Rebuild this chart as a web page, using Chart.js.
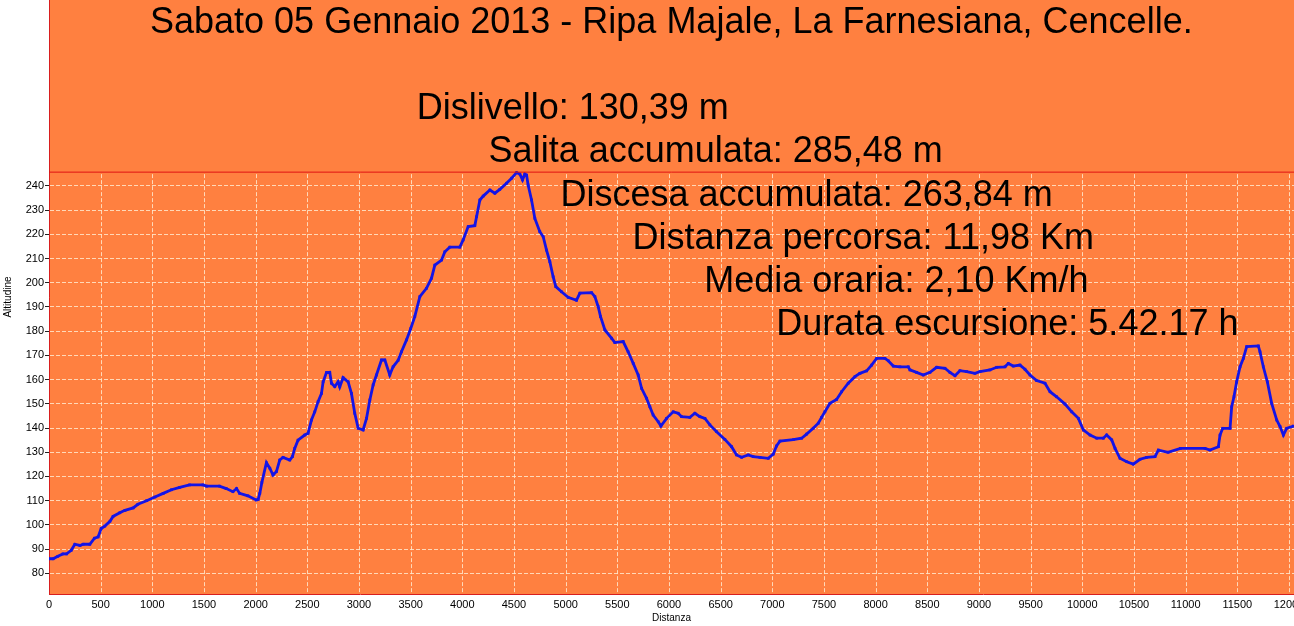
<!DOCTYPE html>
<html>
<head>
<meta charset="utf-8">
<script src="https://cdn.jsdelivr.net/npm/chart.js@4/dist/chart.umd.min.js"></script>
<style>
html,body{margin:0;padding:0;background:#fff;overflow:hidden;}
#wrap{width:1294px;height:626px;position:relative;}
</style>
</head>
<body>
<div id="wrap"><canvas id="c"></canvas></div>
<script>
const titleText = "Sabato 05 Gennaio 2013 - Ripa Majale, La Farnesiana, Cencelle.";
const summaryLines = [
  "Dislivello: 130,39 m",
  "Salita accumulata: 285,48 m",
  "Discesa accumulata: 263,84 m",
  "Distanza percorsa: 11,98 Km",
  "Media oraria: 2,10 Km/h",
  "Durata escursione: 5.42.17 h"
];
const xTicks = [0,500,1000,1500,2000,2500,3000,3500,4000,4500,5000,5500,6000,6500,7000,7500,8000,8500,9000,9500,10000,10500,11000,11500,12000];
const yTicks = [80,90,100,110,120,130,140,150,160,170,180,190,200,210,220,230,240];
const maxAltitude = 245.7;

const distanza = [0,40,85,135,170,215,250,300,330,395,440,475,505,540,590,620,685,735,815,860,945,1025,1105,1185,1265,1360,1490,1525,1650,1715,1780,1815,1845,1925,2005,2024,2040,2060,2104,2137,2168,2201,2233,2265,2330,2356,2378,2410,2475,2507,2540,2572,2604,2637,2653,2685,2717,2734,2766,2798,2814,2846,2895,2927,2959,2992,3040,3073,3105,3137,3169,3218,3250,3298,3330,3379,3411,3460,3500,3540,3589,3653,3702,3734,3799,3831,3879,3976,4008,4057,4121,4138,4170,4202,4267,4315,4363,4428,4477,4525,4557,4583,4605,4622,4637,4670,4702,4750,4783,4815,4847,4879,4905,4960,5024,5105,5138,5251,5283,5315,5338,5380,5444,5476,5557,5605,5654,5702,5735,5783,5815,5847,5896,5922,5977,6041,6089,6122,6202,6251,6299,6348,6396,6461,6541,6606,6654,6703,6767,6815,6880,6961,7009,7041,7074,7203,7284,7332,7396,7445,7477,7509,7558,7622,7671,7735,7800,7848,7913,7961,8010,8090,8122,8171,8235,8316,8332,8396,8461,8526,8590,8671,8719,8768,8816,8881,8961,9010,9106,9171,9252,9284,9332,9397,9445,9494,9558,9639,9688,9752,9833,9898,9962,10010,10075,10140,10204,10236,10285,10317,10365,10430,10494,10559,10623,10704,10736,10830,10950,11188,11236,11317,11333,11359,11430,11446,11468,11494,11527,11559,11591,11704,11720,11752,11791,11833,11882,11914,11946,11978,12043];
const altitudine = [86,86,87,88,88,89.5,92,91.5,92,92,94.5,95,98.5,99.5,101.5,103.5,105,106,107,108.5,110,111.5,113,114.5,115.5,116.5,116.5,116,116,115,113.7,115,113,112,110.3,110.5,113,117.5,125.7,123.4,120.6,122,126.8,127.9,126.8,128.2,131.6,135,137.1,137.8,143.3,146.7,150.9,154.3,159.1,162.9,163,158.5,157.1,159.1,157,160.8,159.1,154.3,146.1,139.9,139.2,144,151.6,157.8,161.9,168.1,168.1,161.9,165.3,168,171.5,176.4,181,186,194.3,197.7,201.9,207.3,209.4,212.8,214.7,214.7,217.7,223.2,223.6,227.3,234.2,235.8,238.3,237,238.6,241.1,243.2,245.5,244.9,242.5,244.9,244.5,240.4,234.2,226.6,221.1,219,213.5,208.7,202.5,198.4,196.3,194,192.8,195.7,195.9,194.3,190.1,186,180.5,177.1,175.3,175.7,171.5,166.7,161.9,156.4,152.3,148.8,145.4,142.6,140.8,144,146.7,146.1,144.7,144.4,146.1,144.7,144,141.3,138.5,135.3,132.3,128.9,127.9,128.9,128.2,127.9,127.5,129.2,132.6,134.6,135.2,135.8,137.5,139.9,142,144.4,146.7,150.2,151.8,155,158.5,161.2,162.6,163.6,166,168.8,168.8,167.8,165.6,165.3,165.3,164,163,161.9,163,165.1,164.7,163,161.6,163.7,163.3,162.6,163.3,164,165.1,165.3,166.7,165.6,166,164.3,161.9,159.6,158.5,155,152.9,149.9,146.7,144,139.2,137.1,135.8,135.8,137.1,135.1,131.6,127.5,126.1,125.1,127.1,127.9,128.2,130.9,130,131.6,131.6,130.9,132.3,137.1,139.9,139.9,148.8,152.9,159.1,165.3,168.8,173.6,173.9,171.5,165.3,159.1,150.2,143.3,140.6,137.1,139.9,140.8];

const X_MIN = 0, X_MAX = 12049, Y_MIN = 71.45, Y_MAX = 316.8;

const profilo = distanza.map((d, i) => ({x: d, y: altitudine[i]}));
const linea_max = [{x: X_MIN, y: maxAltitude}, {x: X_MAX, y: maxAltitude}];

const ORANGE = '#FF8040';
const GRID = 'rgba(255,232,205,0.85)';
const AXIS = '#D81E1E';

const bgPlugin = {
  id: 'bg',
  beforeDraw(chart) {
    const {ctx, chartArea: a, width, height} = chart;
    ctx.save();
    ctx.fillStyle = '#fff';
    ctx.fillRect(0, 0, width, height);
    ctx.fillStyle = ORANGE;
    ctx.fillRect(a.left, a.top, a.right - a.left, a.bottom - a.top);
    ctx.restore();
  },
  beforeDatasetsDraw(chart) {
    const {ctx, chartArea: a, scales} = chart;
    const yTop = scales.y.getPixelForValue(maxAltitude) + 2;
    ctx.save();
    ctx.strokeStyle = GRID;
    ctx.lineWidth = 1;
    ctx.setLineDash([4, 2]);
    xTicks.forEach(v => {
      if (v === 0) return;
      const px = Math.round(scales.x.getPixelForValue(v)) + 0.5;
      ctx.beginPath();
      ctx.moveTo(px, yTop);
      ctx.lineTo(px, a.bottom);
      ctx.stroke();
    });
    ctx.restore();
  },
  afterDraw(chart) {
    const {ctx} = chart;
    ctx.save();
    ctx.fillStyle = '#000';
    ctx.font = '36px "Liberation Sans", Arial, sans-serif';
    ctx.textBaseline = 'alphabetic';
    ctx.textAlign = 'left';
    ctx.fillText(titleText, 150, 33);
    summaryLines.forEach((t, i) => {
      ctx.fillText(t, 416.7 + i * 71.9, 119.3 + i * 43.1);
    });
    ctx.restore();
  }
};

new Chart(document.getElementById('c'), {
  type: 'line',
  data: {
    datasets: [
      {
        data: linea_max,
        borderColor: '#E01010',
        borderWidth: 1,
        pointRadius: 0,
        tension: 0
      },
      {
        data: profilo,
        borderColor: '#1414E6',
        borderWidth: 2.8,
        pointStyle: 'rect',
        pointRadius: 1.9,
        pointBackgroundColor: '#1414E6',
        pointBorderWidth: 0,
        tension: 0
      },
      {
        data: profilo,
        borderColor: 'rgba(0,0,40,0.8)',
        borderWidth: 0.8,
        pointRadius: 0,
        tension: 0
      }
    ]
  },
  options: {
    responsive: true,
    maintainAspectRatio: false,
    animation: false,
    events: [],
    layout: {padding: 0, autoPadding: false},
    plugins: {legend: {display: false}, tooltip: {enabled: false}},
    scales: {
      x: {
        type: 'linear',
        min: X_MIN,
        max: X_MAX,
        afterBuildTicks(s) { s.ticks = xTicks.map(v => ({value: v})); },
        afterFit(s) { s.height = 32; s.paddingLeft = 0; s.paddingRight = 0; },
        ticks: {
          autoSkip: false, maxRotation: 0, minRotation: 0, padding: 4,
          color: '#000',
          font: {family: '"Liberation Sans", Arial, sans-serif', size: 11},
          callback: v => String(v)
        },
        grid: {display: true, drawOnChartArea: false, drawTicks: false},
        border: {display: true, color: AXIS, width: 1},
        title: {
          display: true, text: 'Distanza', color: '#000',
          font: {family: '"Liberation Sans", Arial, sans-serif', size: 10},
          padding: {top: 0, bottom: 2}
        }
      },
      y: {
        type: 'linear',
        min: Y_MIN,
        max: Y_MAX,
        afterBuildTicks(s) { s.ticks = yTicks.map(v => ({value: v})); },
        afterFit(s) { s.width = 49; s.paddingTop = 0; s.paddingBottom = 0; },
        ticks: {
          autoSkip: false, padding: 1, color: '#000',
          font: {family: '"Liberation Sans", Arial, sans-serif', size: 11},
          callback: v => String(v)
        },
        grid: {
          display: true, drawOnChartArea: true, drawTicks: true,
          color: GRID, lineWidth: 1, tickLength: 4, tickColor: '#222', tickWidth: 1
        },
        border: {display: true, color: AXIS, width: 1, dash: [4, 2]},
        title: {
          display: true, text: 'Altitudine', color: '#000',
          font: {family: '"Liberation Sans", Arial, sans-serif', size: 10},
          padding: {top: 2, bottom: 0}
        }
      }
    }
  },
  plugins: [bgPlugin]
});
</script>
</body>
</html>
